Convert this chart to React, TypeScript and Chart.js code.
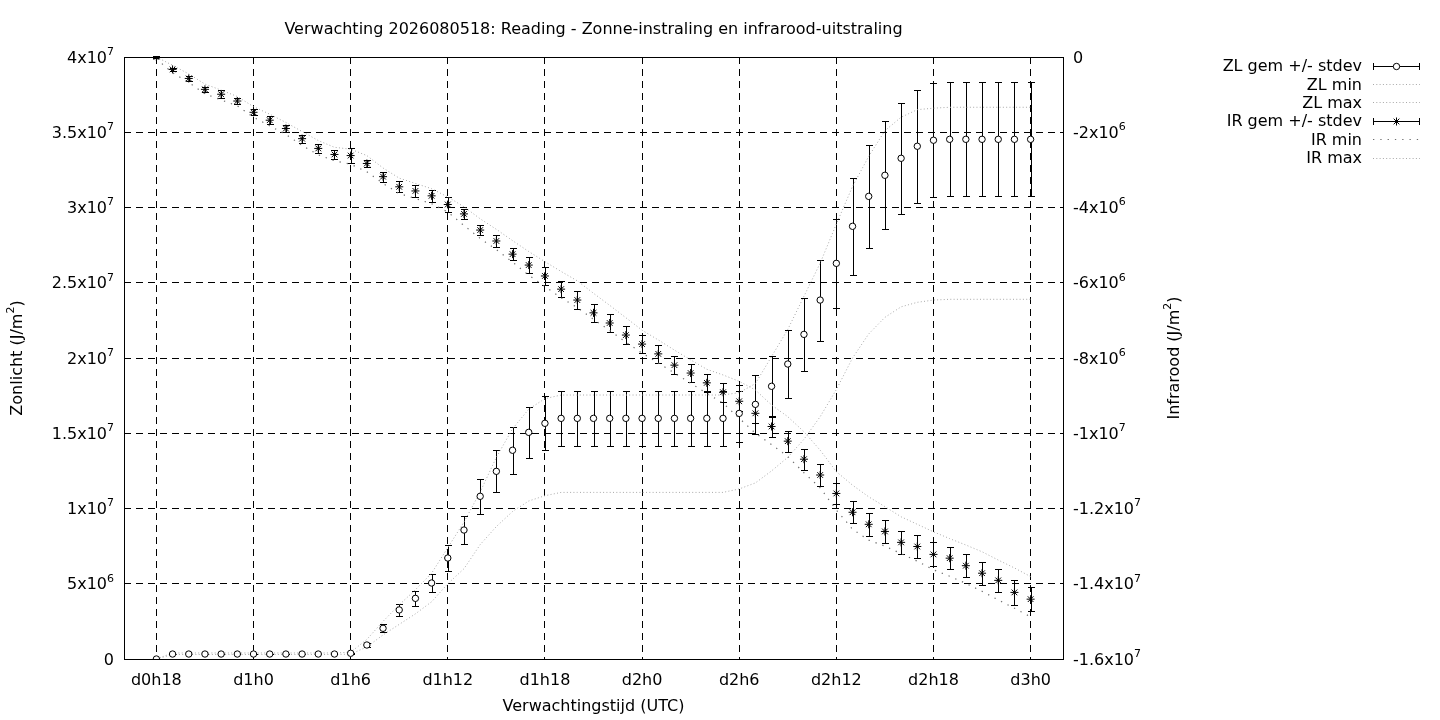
import React, { useEffect, useRef } from "react";
import { Chart, registerables } from "chart.js";

Chart.register(...registerables);

const TITLE = "Verwachting 2026080518: Reading - Zonne-instraling en infrarood-uitstraling";
const X_TITLE = "Verwachtingstijd (UTC)";
// "^" marks a superscript exponent
const Y_LEFT_TITLE = "Zonlicht (J/m^2)";
const Y_RIGHT_TITLE = "Infrarood (J/m^2)";

// hourly forecast steps
const CATEGORIES = [
  "d0h18", "d0h19", "d0h20", "d0h21", "d0h22", "d0h23",
  "d1h0", "d1h1", "d1h2", "d1h3", "d1h4", "d1h5", "d1h6", "d1h7", "d1h8", "d1h9", "d1h10", "d1h11",
  "d1h12", "d1h13", "d1h14", "d1h15", "d1h16", "d1h17", "d1h18", "d1h19", "d1h20", "d1h21", "d1h22", "d1h23",
  "d2h0", "d2h1", "d2h2", "d2h3", "d2h4", "d2h5", "d2h6", "d2h7", "d2h8", "d2h9", "d2h10", "d2h11",
  "d2h12", "d2h13", "d2h14", "d2h15", "d2h16", "d2h17", "d2h18", "d2h19", "d2h20", "d2h21", "d2h22", "d2h23",
  "d3h0",
];
const X_TICK_LABELS = ["d0h18", "d1h0", "d1h6", "d1h12", "d1h18", "d2h0", "d2h6", "d2h12", "d2h18", "d3h0"];

// values in units of 10^6 J/m^2
const LEFT_TICK_VALUES = [0, 5, 10, 15, 20, 25, 30, 35, 40];
const LEFT_TICK_LABELS = ["0", "5x10^6", "1x10^7", "1.5x10^7", "2x10^7", "2.5x10^7", "3x10^7", "3.5x10^7", "4x10^7"];
const RIGHT_TICK_VALUES = [0, -2, -4, -6, -8, -10, -12, -14, -16];
const RIGHT_TICK_LABELS = ["0", "-2x10^6", "-4x10^6", "-6x10^6", "-8x10^6", "-1x10^7", "-1.2x10^7", "-1.4x10^7", "-1.6x10^7"];

const ZL_MEAN = [
  0, 0.33, 0.33, 0.33, 0.33, 0.33, 0.33, 0.33, 0.33, 0.33, 0.33, 0.33, 0.38,
  0.93, 2.04, 3.26, 4.03, 5.05, 6.71, 8.57, 10.81, 12.47, 13.87, 15.06, 15.66,
  15.99, 15.99, 15.99, 15.99, 15.99, 15.99, 15.99, 15.99, 15.99, 15.99, 15.99,
  16.32, 16.92, 18.12, 19.6, 21.57, 23.85, 26.29, 28.75, 30.74, 32.14, 33.27, 34.07, 34.47,
  34.53, 34.53, 34.53, 34.53, 34.53, 34.53,
];
const ZL_STDEV = [
  0, 0.02, 0.02, 0.02, 0.02, 0.02, 0.02, 0.02, 0.02, 0.02, 0.02, 0.02, 0.03,
  0.15, 0.27, 0.4, 0.5, 0.6, 0.86, 0.91, 1.16, 1.4, 1.55, 1.68, 1.8,
  1.85, 1.85, 1.85, 1.85, 1.85, 1.85, 1.85, 1.85, 1.85, 1.85, 1.85,
  1.89, 1.96, 2.04, 2.23, 2.43, 2.69, 2.96, 3.22, 3.44, 3.58, 3.69, 3.75, 3.78,
  3.79, 3.79, 3.79, 3.79, 3.79, 3.79,
];
const ZL_MIN = [
  0, 0.3, 0.3, 0.3, 0.3, 0.3, 0.3, 0.3, 0.3, 0.3, 0.3, 0.3, 0.32,
  0.8, 1.6, 2.3, 3.0, 3.8, 5.0, 6.0, 7.6, 8.8, 9.8, 10.5, 10.85,
  11.07, 11.07, 11.07, 11.07, 11.07, 11.07, 11.07, 11.07, 11.07, 11.07, 11.07,
  11.3, 11.7, 12.5, 13.4, 14.6, 16.1, 17.9, 20.0, 21.6, 22.7, 23.4, 23.7, 23.85,
  23.9, 23.9, 23.9, 23.9, 23.9, 23.9,
];
const ZL_MAX = [
  0, 0.4, 0.4, 0.4, 0.4, 0.4, 0.4, 0.4, 0.4, 0.4, 0.4, 0.4, 0.45,
  1.3, 2.5, 3.6, 4.6, 5.7, 7.4, 9.1, 11.1, 13.4, 15.3, 16.6, 17.3,
  17.54, 17.54, 17.54, 17.54, 17.54, 17.54, 17.54, 17.54, 17.54, 17.54, 17.54,
  17.7, 18.3, 20.1, 21.9, 24.1, 26.3, 28.9, 31.4, 33.4, 35.1, 36.0, 36.5, 36.6,
  36.66, 36.66, 36.66, 36.66, 36.66, 36.66,
];

const IR_MEAN = [
  0, -0.33, -0.57, -0.86, -0.99, -1.17, -1.47, -1.68, -1.9, -2.17, -2.43, -2.59, -2.62,
  -2.83, -3.18, -3.45, -3.56, -3.69, -3.92, -4.17, -4.6, -4.89, -5.24, -5.53, -5.82,
  -6.17, -6.46, -6.8, -7.07, -7.39, -7.63, -7.89, -8.19, -8.4, -8.66, -8.91,
  -9.15, -9.47, -9.82, -10.21, -10.69, -11.11, -11.6, -12.1, -12.42, -12.61, -12.9, -13.01, -13.22,
  -13.32, -13.52, -13.72, -13.91, -14.23, -14.41,
];
const IR_STDEV = [
  0.03, 0.05, 0.06, 0.07, 0.1, 0.08, 0.08, 0.1, 0.1, 0.11, 0.11, 0.11, 0.2,
  0.1, 0.13, 0.15, 0.17, 0.16, 0.2, 0.14, 0.13, 0.15, 0.16, 0.21, 0.23,
  0.22, 0.23, 0.23, 0.24, 0.23, 0.23, 0.23, 0.24, 0.23, 0.24, 0.25,
  0.27, 0.27, 0.27, 0.28, 0.28, 0.28, 0.28, 0.29, 0.31, 0.31, 0.3, 0.31, 0.32,
  0.3, 0.31, 0.31, 0.31, 0.33, 0.32,
];
const IR_MIN = [
  -0.05, -0.42, -0.68, -0.98, -1.14, -1.3, -1.6, -1.83, -2.06, -2.35, -2.6, -2.76, -2.85,
  -3.05, -3.36, -3.63, -3.76, -3.9, -4.12, -4.48, -4.82, -5.12, -5.45, -5.8, -6.1,
  -6.4, -6.66, -6.97, -7.27, -7.58, -7.87, -8.13, -8.4, -8.67, -8.94, -9.2,
  -9.6, -10.0, -10.3, -10.62, -11.05, -11.45, -12.04, -12.55, -12.84, -13.0, -13.2, -13.4, -13.63,
  -13.8, -13.99, -14.2, -14.43, -14.65, -14.88,
];
const IR_MAX = [
  0, -0.22, -0.45, -0.72, -0.88, -1.05, -1.32, -1.52, -1.74, -1.98, -2.22, -2.4, -2.45,
  -2.62, -2.95, -3.22, -3.36, -3.5, -3.72, -3.98, -4.3, -4.58, -4.88, -5.17, -5.44,
  -5.7, -5.95, -6.28, -6.6, -6.93, -7.26, -7.52, -7.79, -8.05, -8.3, -8.45,
  -8.62, -8.85, -9.25, -9.56, -9.96, -10.45, -11.02, -11.38, -11.69, -11.95, -12.22, -12.42, -12.62,
  -12.8, -12.97, -13.15, -13.37, -13.58, -13.81,
];

const SERIES_LABELS = ["ZL gem +/- stdev", "ZL min", "ZL max", "IR gem +/- stdev", "IR min", "IR max"];

const FONT = "DejaVu Sans";
const FONT_SIZE = 16;
const SUP_SIZE = 11;
const TEXT_DY = 1.5;
const CAP = 3.5;

const toPoints = (vals: number[]) => vals.map((v, i) => ({ x: i, y: v }));

// split "4x10^7" into normal / superscript parts
function parseRich(text: string) {
  const parts: { t: string; sup: boolean }[] = [];
  const re = /\^(\d+)/g;
  let last = 0;
  let m: RegExpExecArray | null;
  while ((m = re.exec(text))) {
    if (m.index > last) parts.push({ t: text.slice(last, m.index), sup: false });
    parts.push({ t: m[1], sup: true });
    last = m.index + m[0].length;
  }
  if (last < text.length) parts.push({ t: text.slice(last), sup: false });
  return parts;
}

function drawRich(ctx: CanvasRenderingContext2D, text: string, x: number, y: number, align: "left" | "right" | "center") {
  const parts = parseRich(text);
  const fontN = `${FONT_SIZE}px "${FONT}"`;
  const fontS = `${SUP_SIZE}px "${FONT}"`;
  let total = 0;
  const widths = parts.map((p) => {
    ctx.font = p.sup ? fontS : fontN;
    const w = ctx.measureText(p.t).width;
    total += w;
    return w;
  });
  let cx = align === "left" ? x : align === "right" ? x - total : x - total / 2;
  ctx.textAlign = "left";
  ctx.textBaseline = "middle";
  parts.forEach((p, i) => {
    ctx.font = p.sup ? fontS : fontN;
    ctx.fillText(p.t, cx, (p.sup ? y - 6.5 : y) + TEXT_DY);
    cx += widths[i];
  });
}

function drawMarker(ctx: CanvasRenderingContext2D, style: string, x: number, y: number) {
  ctx.save();
  ctx.lineWidth = 1;
  ctx.strokeStyle = "#000";
  if (style === "circle") {
    ctx.fillStyle = "#fff";
    ctx.beginPath();
    ctx.arc(x, y, 3.2, 0, Math.PI * 2);
    ctx.fill();
    ctx.stroke();
  } else {
    const r = 4;
    const d = r * Math.SQRT1_2;
    ctx.beginPath();
    ctx.moveTo(x - r, y); ctx.lineTo(x + r, y);
    ctx.moveTo(x, y - r); ctx.lineTo(x, y + r);
    ctx.moveTo(x - d, y - d); ctx.lineTo(x + d, y + d);
    ctx.moveTo(x - d, y + d); ctx.lineTo(x + d, y - d);
    ctx.stroke();
  }
  ctx.restore();
}

const decorPlugin = {
  id: "gnuplotDecor",
  beforeDatasetsDraw(chart: any) {
    const { ctx } = chart;
    const xs = chart.scales.x;
    chart.data.datasets.forEach((ds: any) => {
      if (!ds.errors) return;
      const ys = chart.scales[ds.yAxisID];
      ctx.save();
      ctx.strokeStyle = "#000";
      ctx.lineWidth = 1;
      ds.data.forEach((p: any, j: number) => {
        const x = Math.round(xs.getPixelForValue(p.x)) + 0.5;
        const y1 = Math.round(ys.getPixelForValue(p.y - ds.errors[j])) + 0.5;
        const y2 = Math.round(ys.getPixelForValue(p.y + ds.errors[j])) + 0.5;
        ctx.beginPath();
        ctx.moveTo(x, y1); ctx.lineTo(x, y2);
        ctx.moveTo(x - CAP, y1); ctx.lineTo(x + CAP, y1);
        ctx.moveTo(x - CAP, y2); ctx.lineTo(x + CAP, y2);
        ctx.stroke();
      });
      ctx.restore();
    });
  },
  afterDraw(chart: any) {
    const { ctx, chartArea: a } = chart;
    ctx.save();
    // frame
    ctx.strokeStyle = "#000";
    ctx.lineWidth = 1;
    ctx.setLineDash([]);
    ctx.strokeRect(Math.round(a.left) + 0.5, Math.round(a.top) + 0.5, Math.round(a.right - a.left), Math.round(a.bottom - a.top));

    ctx.fillStyle = "#000";
    const midX = (a.left + a.right) / 2;
    const midY = (a.top + a.bottom) / 2;
    drawRich(ctx, TITLE, midX, 28, "center");
    drawRich(ctx, X_TITLE, midX, 705, "center");

    // y tick labels (with superscript exponents)
    const yL = chart.scales.yL;
    LEFT_TICK_VALUES.forEach((v, i) => {
      drawRich(ctx, LEFT_TICK_LABELS[i], a.left - 10, yL.getPixelForValue(v), "right");
    });
    const yR = chart.scales.yR;
    RIGHT_TICK_VALUES.forEach((v, i) => {
      drawRich(ctx, RIGHT_TICK_LABELS[i], a.right + 10, yR.getPixelForValue(v), "left");
    });

    ctx.save();
    ctx.translate(18, midY);
    ctx.rotate(-Math.PI / 2);
    drawRich(ctx, Y_LEFT_TITLE, 0, -TEXT_DY, "center");
    ctx.restore();
    ctx.save();
    ctx.translate(1175, midY);
    ctx.rotate(-Math.PI / 2);
    drawRich(ctx, Y_RIGHT_TITLE, 0, -TEXT_DY, "center");
    ctx.restore();

    // legend
    const textRight = 1362;
    const s0 = 1373;
    const s1 = 1420;
    chart.data.datasets.forEach((ds: any, i: number) => {
      const y = 65.5 + i * 18.4;
      ctx.fillStyle = "#000";
      drawRich(ctx, ds.label, textRight, y, "right");
      const yy = Math.round(y) + 0.5;
      if (ds.errors) {
        ctx.strokeStyle = "#000";
        ctx.lineWidth = 1;
        ctx.setLineDash([]);
        ctx.beginPath();
        ctx.moveTo(s0, yy); ctx.lineTo(s1, yy);
        ctx.moveTo(s0 + 0.5, yy - CAP); ctx.lineTo(s0 + 0.5, yy + CAP);
        ctx.moveTo(s1 - 0.5, yy - CAP); ctx.lineTo(s1 - 0.5, yy + CAP);
        ctx.stroke();
        drawMarker(ctx, ds.pointStyle, (s0 + s1) / 2, yy);
      } else {
        ctx.strokeStyle = ds.borderColor;
        ctx.lineWidth = ds.borderWidth;
        ctx.setLineDash(ds.borderDash);
        ctx.beginPath();
        ctx.moveTo(s0, yy); ctx.lineTo(s1, yy);
        ctx.stroke();
        ctx.setLineDash([]);
      }
    });
    ctx.restore();
  },
};

const gridCommon = { color: "#000", lineWidth: 1, drawTicks: false };

export default function App() {
  const ref = useRef<HTMLCanvasElement | null>(null);
  useEffect(() => {
    document.body.style.margin = "0";
    if (!ref.current) return;
    Chart.defaults.font.family = FONT;
    Chart.defaults.font.size = FONT_SIZE;
    Chart.defaults.color = "#000";

    const denseDot = { borderColor: "#a8a8a8", borderWidth: 1, borderDash: [1, 2.3] };
    const sparseDot = { borderColor: "#6e6e6e", borderWidth: 1.2, borderDash: [1.3, 6] };

    const chart = new Chart(ref.current, {
      type: "line",
      data: {
        datasets: [
          {
            label: SERIES_LABELS[0], data: toPoints(ZL_MEAN), errors: ZL_STDEV, yAxisID: "yL",
            showLine: false, pointStyle: "circle", pointRadius: 3.2, pointBorderWidth: 1,
            pointBackgroundColor: "#fff", pointBorderColor: "#000", borderColor: "#000",
          },
          { label: SERIES_LABELS[1], data: toPoints(ZL_MIN), yAxisID: "yL", pointRadius: 0, tension: 0, ...denseDot },
          { label: SERIES_LABELS[2], data: toPoints(ZL_MAX), yAxisID: "yL", pointRadius: 0, tension: 0, ...denseDot },
          {
            label: SERIES_LABELS[3], data: toPoints(IR_MEAN), errors: IR_STDEV, yAxisID: "yR",
            showLine: false, pointStyle: "star", pointRadius: 4, pointBorderWidth: 1,
            pointBackgroundColor: "#000", pointBorderColor: "#000", borderColor: "#000",
          },
          { label: SERIES_LABELS[4], data: toPoints(IR_MIN), yAxisID: "yR", pointRadius: 0, tension: 0, ...sparseDot },
          { label: SERIES_LABELS[5], data: toPoints(IR_MAX), yAxisID: "yR", pointRadius: 0, tension: 0, ...denseDot },
        ] as any,
      },
      options: {
        animation: false,
        responsive: false,
        maintainAspectRatio: false,
        layout: { padding: { top: 57, left: 0, right: 0, bottom: 0 } },
        plugins: { legend: { display: false }, title: { display: false }, tooltip: { enabled: false } },
        scales: {
          x: {
            type: "linear",
            min: -2,
            max: 56,
            afterFit: (s: any) => { s.height = 61; },
            afterBuildTicks: (s: any) => {
              s.ticks = X_TICK_LABELS.map((l) => ({ value: CATEGORIES.indexOf(l) }));
            },
            ticks: {
              callback: (_v: any, i: number) => X_TICK_LABELS[i],
              padding: 12, maxRotation: 0, autoSkip: false, color: "#000", font: { size: FONT_SIZE, family: FONT },
            },
            grid: gridCommon,
            border: { display: false, dash: [7, 5] },
          },
          yL: {
            type: "linear",
            position: "left",
            min: 0,
            max: 40,
            afterFit: (s: any) => { s.width = 124; },
            afterBuildTicks: (s: any) => { s.ticks = LEFT_TICK_VALUES.map((v) => ({ value: v })); },
            ticks: { display: false },
            grid: gridCommon,
            border: { display: false, dash: [7, 5] },
          },
          yR: {
            type: "linear",
            position: "right",
            min: -16,
            max: 0,
            afterFit: (s: any) => { s.width = 377; },
            afterBuildTicks: (s: any) => { s.ticks = RIGHT_TICK_VALUES.map((v) => ({ value: v })); },
            ticks: { display: false },
            grid: { display: false, drawTicks: false },
            border: { display: false },
          },
        },
      } as any,
      plugins: [decorPlugin],
    });
    return () => chart.destroy();
  }, []);

  return (
    <div style={{ width: 1440, height: 720, background: "#fff" }}>
      <canvas ref={ref} width={1440} height={720} style={{ display: "block" }} />
    </div>
  );
}
